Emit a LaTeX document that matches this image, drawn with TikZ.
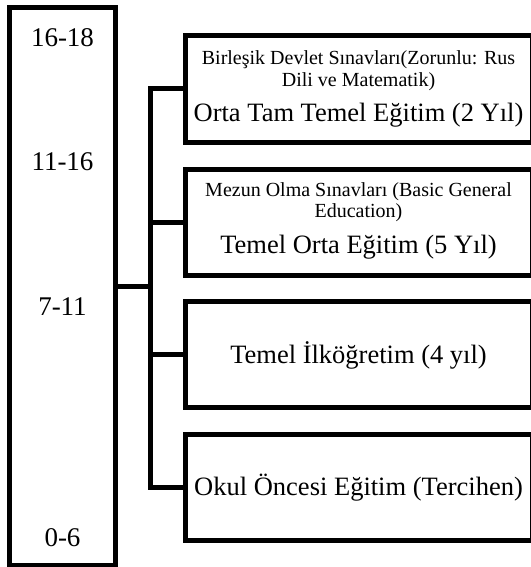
\documentclass[tikz,border=0pt]{standalone}
\usepackage{fontspec}
\setmainfont{Liberation Serif}
\begin{document}
\begin{tikzpicture}[x=1pt,y=-1pt]
\tikzset{
  agebox/.style={draw, line width=5pt, inner sep=0pt, minimum width=106pt, minimum height=557pt},
  levelbox/.style={draw, line width=5pt, inner sep=0pt, minimum width=347pt, minimum height=106pt},
  conn/.style={draw, line width=5pt},
  agetext/.style={inner sep=0pt, font=\fontsize{27}{29}\selectfont},
  bigtext/.style={inner sep=0pt, font=\fontsize{26.5}{29}\selectfont},
  smalltext/.style={inner sep=0pt, font=\fontsize{20}{22}\selectfont}
}
\useasboundingbox (0,0) rectangle (530,567);
% age column
\node[agebox] (age) at (62.5,286.5) {};
\node[agetext] (a1) at (62.5,38) {16-18};
\node[agetext] (a2) at (62.5,162) {11-16};
\node[agetext] (a3) at (62.5,307) {7-11};
\node[agetext] (a4) at (62.5,538) {0-6};
% level boxes
\node[levelbox] (b1) at (358.5,89) {};
\node[levelbox] (b2) at (358.5,222) {};
\node[levelbox] (b3) at (358.5,354.5) {};
\node[levelbox] (b4) at (358.5,487.5) {};
% texts
\node[smalltext] (t1a) at (358.5,60) {Birleşik Devlet Sınavları(Zorunlu: Rus};
\node[smalltext] (t1b) at (358.5,82) {Dili ve Matematik)};
\node[bigtext] (t1c) at (358.5,115) {Orta Tam Temel Eğitim (2 Yıl)};
\node[smalltext] (t2a) at (358.5,192) {Mezun Olma Sınavları (Basic General};
\node[smalltext] (t2b) at (358.5,213) {Education)};
\node[bigtext] (t2c) at (358.5,247) {Temel Orta Eğitim (5 Yıl)};
\node[bigtext] (t3) at (358.5,355) {Temel İlköğretim (4 yıl)};
\node[bigtext] (t4) at (358.5,487.5) {Okul Öncesi Eğitim (Tercihen)};
% connectors
\coordinate (spine) at (150.5,0);
\draw[conn] (b1.west) -- (b1.west -| spine) -- (b4.west -| spine) -- (b4.west);
\draw[conn] (b2.west) -- (b2.west -| spine);
\draw[conn] (b3.west) -- (b3.west -| spine);
\draw[conn] (age.east) -- (age.east -| spine);
\end{tikzpicture}
\end{document}
